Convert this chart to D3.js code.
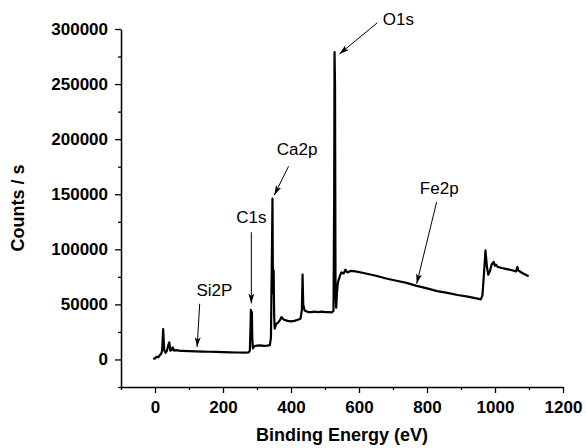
<!DOCTYPE html>
<html>
<head>
<meta charset="utf-8">
<script src="https://cdn.jsdelivr.net/npm/d3@7"></script>
<style>
  html, body { margin: 0; padding: 0; background: #fff; }
  svg text { font-family: Arial, "Liberation Sans", sans-serif; }
</style>
</head>
<body>
<svg id="chart" width="586" height="448"></svg>
<script>
// Binding energy (eV)
const energy = [
  -5, 0, 5, 10, 14, 18, 21, 24, 27, 31, 35, 39, 42, 45, 49, 52, 56, 62, 70, 80,
  100, 120, 140, 160, 180, 200, 220, 240, 260, 275, 279, 281, 282, 283.5, 285, 286, 288, 292,
  300, 310, 320, 330, 338, 341, 344, 345.5, 347, 349, 350.5, 352, 356, 362, 368, 372, 376, 380,
  390, 400, 410, 420, 428, 432, 434, 436, 440, 450, 460, 470, 480, 490, 500, 510, 520, 525,
  527, 528, 529.5, 531, 533, 535, 538, 542, 548, 555, 560, 564, 568, 575, 590, 620, 650, 680,
  710, 740, 767, 800, 830, 860, 890, 920, 945, 958, 963, 968, 972, 976, 980, 985, 990, 996,
  1000, 1003, 1008, 1020, 1035, 1050, 1062, 1066, 1068, 1080, 1099
];
// Counts / s
const counts = [
  500, 1000, 2500, 2000, 4000, 5000, 8000, 27500, 9000, 6000, 8000, 13000, 15500, 8000, 8500, 11000, 8000, 8500, 8000, 7800,
  7500, 7300, 7200, 7000, 6900, 6700, 6500, 6300, 6200, 6300, 8000, 30000, 45000, 41000, 43000, 20000, 10000, 12000,
  12500, 12800, 12300, 12500, 13000, 20000, 100000, 146000, 60000, 81000, 40000, 28000, 32000, 33500, 36000, 38500, 37000, 36000,
  35000, 34500, 35000, 36000, 37000, 45000, 77000, 50000, 44500, 43000, 43000, 43500, 43000, 43500, 43000, 43000, 42800, 44000,
  150000, 279000, 250000, 60000, 47000, 60000, 70000, 74000, 79000, 78000, 81500, 79500, 79000, 80500, 80000, 78000, 76000, 73500,
  71500, 69500, 67000, 64500, 62000, 60500, 58500, 57000, 55500, 54500, 58000, 80000, 99000, 85000, 77000, 80000, 86000, 88500,
  85000, 86000, 84000, 83000, 82000, 81000, 80000, 84000, 81000, 78500, 75500
];

const xTicks = [0, 200, 400, 600, 800, 1000, 1200];
const xMinorTicks = [-100, 100, 300, 500, 700, 900, 1100];
const yTicks = [0, 50000, 100000, 150000, 200000, 250000, 300000];
const yMinorTicks = [-25000, 25000, 75000, 125000, 175000, 225000, 275000];

// Peak annotations: label, text anchor point, arrow start, arrow end (data units)
const annLabels = ["O1s", "Ca2p", "C1s", "Si2P", "Fe2p"];
const annTextX  = [670, 358, 283.3, 122, 779];
const annTextY  = [303600, 185400, 123600, 57500, 150600];
const annFromX  = [654, 392.8, 283.3, 131.5, 828.4];
const annFromY  = [305700, 175400, 115500, 50600, 143000];
const annToX    = [542.5, 350.8, 283.3, 123.9, 769.7];
const annToY    = [277300, 149100, 50900, 11200, 68800];
const annAnchor = ["start", "start", "middle", "start", "start"];

const svg = d3.select("#chart");
const margin = { left: 121, right: 23, top: 29, bottom: 61 };
const W = 586, H = 448;

const x = d3.scaleLinear().domain([-100, 1200]).range([margin.left, W - margin.right]);
const y = d3.scaleLinear().domain([-25000, 300000]).range([H - margin.bottom, margin.top]);

// Arrow marker
svg.append("defs").append("marker")
  .attr("id", "arrow")
  .attr("viewBox", "0 0 10 6")
  .attr("refX", 10).attr("refY", 3)
  .attr("markerWidth", 11).attr("markerHeight", 6)
  .attr("markerUnits", "userSpaceOnUse")
  .attr("orient", "auto")
  .append("path").attr("d", "M0,0 L10,3 L0,6 L2.5,3 Z").attr("fill", "#000");

// Axes
const xAxis = svg.append("g")
  .attr("transform", `translate(0,${H - margin.bottom})`)
  .call(d3.axisBottom(x).tickValues(xTicks).tickSize(6).tickPadding(8).tickSizeOuter(0).tickFormat(d3.format("d")));
const xMinor = svg.append("g")
  .attr("transform", `translate(0,${H - margin.bottom})`)
  .call(d3.axisBottom(x).tickValues(xMinorTicks).tickSize(3).tickSizeOuter(0).tickFormat(""));
xMinor.select(".domain").remove();

const yAxis = svg.append("g")
  .attr("transform", `translate(${margin.left},0)`)
  .call(d3.axisLeft(y).tickValues(yTicks).tickSize(6).tickPadding(7).tickSizeOuter(0).tickFormat(d3.format("d")));
const yMinor = svg.append("g")
  .attr("transform", `translate(${margin.left},0)`)
  .call(d3.axisLeft(y).tickValues(yMinorTicks).tickSize(3).tickSizeOuter(0).tickFormat(""));
yMinor.select(".domain").remove();

svg.selectAll(".domain").attr("stroke", "#000").attr("stroke-width", 1.5);
svg.selectAll(".tick line").attr("stroke", "#000").attr("stroke-width", 1.3);
[xAxis, yAxis].forEach(g => g.selectAll(".tick text")
  .attr("font-family", "Arial, 'Liberation Sans', sans-serif")
  .attr("font-size", 17).attr("font-weight", "bold").attr("fill", "#000"));

// Axis titles
svg.append("text")
  .attr("x", (x.range()[0] + x.range()[1]) / 2)
  .attr("y", 441)
  .attr("text-anchor", "middle")
  .attr("font-size", 18).attr("font-weight", "bold")
  .text("Binding Energy (eV)");
svg.append("text")
  .attr("transform", `translate(24,${(y.range()[0] + y.range()[1]) / 2}) rotate(-90)`)
  .attr("text-anchor", "middle")
  .attr("font-size", 18).attr("font-weight", "bold")
  .text("Counts / s");

// Spectrum
const pts = energy.map((e, i) => [e, counts[i]]);
svg.append("path")
  .datum(pts)
  .attr("fill", "none")
  .attr("stroke", "#000")
  .attr("stroke-width", 2.2)
  .attr("stroke-linejoin", "round")
  .attr("d", d3.line().x(d => x(d[0])).y(d => y(d[1])));

// Annotations
annLabels.forEach((lab, i) => {
  svg.append("line")
    .attr("x1", x(annFromX[i])).attr("y1", y(annFromY[i]))
    .attr("x2", x(annToX[i])).attr("y2", y(annToY[i]))
    .attr("stroke", "#000").attr("stroke-width", 1)
    .attr("marker-end", "url(#arrow)");
  svg.append("text")
    .attr("x", x(annTextX[i])).attr("y", y(annTextY[i]))
    .attr("text-anchor", annAnchor[i])
    .attr("font-size", 17)
    .text(lab);
});
</script>
</body>
</html>
